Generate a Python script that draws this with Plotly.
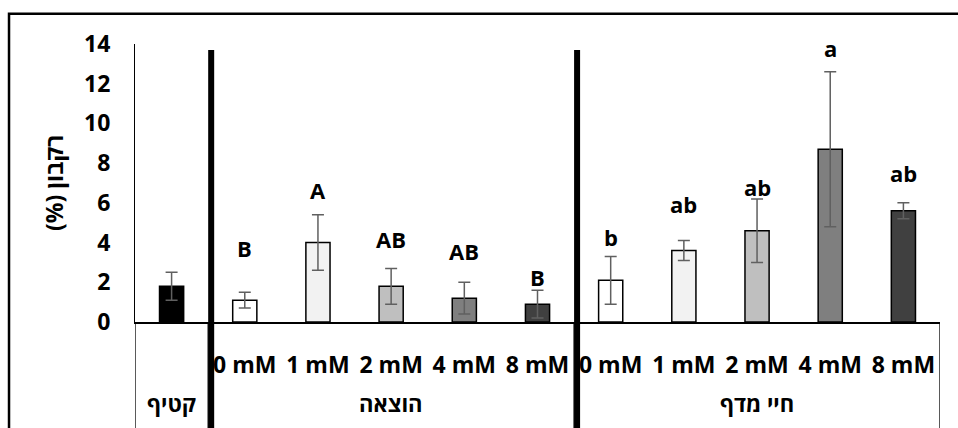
import plotly.graph_objects as go

# ---- data ----
groups = ["קטיף", "הוצאה", "הוצאה", "הוצאה", "הוצאה", "הוצאה",
          "חיי מדף", "חיי מדף", "חיי מדף", "חיי מדף", "חיי מדף"]
doses = ["", "0 mM", "1 mM", "2 mM", "4 mM", "8 mM",
         "0 mM", "1 mM", "2 mM", "4 mM", "8 mM"]
means = [1.8, 1.1, 4.0, 1.8, 1.2, 0.9, 2.1, 3.6, 4.6, 8.7, 5.6]
errs = [0.7, 0.4, 1.4, 0.9, 0.8, 0.7, 1.2, 0.5, 1.6, 3.9, 0.4]
letters = ["", "B", "A", "AB", "AB", "B", "b", "ab", "ab", "a", "ab"]
letter_y = [None, 3.73, 6.65, 4.18, 3.59, 2.28, 4.28, 5.94, 6.81, 13.78, 7.49]
y_ticks = [0, 2, 4, 6, 8, 10, 12, 14]
y_title = "רקבון (%)"

dose_colors = {"": "#000000", "0 mM": "#FFFFFF", "1 mM": "#F2F2F2",
               "2 mM": "#BFBFBF", "4 mM": "#7F7F7F", "8 mM": "#404040"}

x = list(range(len(means)))
colors = [dose_colors[d] for d in doses]

FONT = "Open Sans, Liberation Sans, DejaVu Sans, sans-serif"

fig = go.Figure()
fig.add_trace(go.Bar(
    x=x, y=means, width=0.33,
    marker=dict(color=colors, line=dict(color="#000000", width=1.5)),
    error_y=dict(type="data", array=errs, visible=True,
                 color="#606060", thickness=1.5, width=6),
    showlegend=False, hoverinfo="skip",
))

annotations = []
for xi, lab, ly in zip(x, letters, letter_y):
    if lab and ly is not None:
        annotations.append(dict(x=xi, y=ly, xref="x", yref="y", text=lab,
                                showarrow=False, yanchor="middle",
                                font=dict(family=FONT, size=22, color="#000000", weight="bold")))

# group labels below the dose labels
seen = []
for g in groups:
    if g not in seen:
        seen.append(g)
for g in seen:
    idx = [i for i, gg in enumerate(groups) if gg == g]
    annotations.append(dict(x=sum(idx) / len(idx), y=-0.29, xref="x", yref="paper",
                            text=g, showarrow=False, yanchor="middle",
                            font=dict(family=FONT, size=22, color="#000000", weight="bold")))

shapes = []
# group boundaries (thin dividers in category area)
bounds = [-0.5]
for i in range(1, len(groups)):
    if groups[i] != groups[i - 1]:
        bounds.append(i - 0.5)
bounds.append(len(groups) - 0.5)
for b in bounds:
    shapes.append(dict(type="line", xref="x", yref="paper", x0=b, x1=b, y0=0, y1=-0.45,
                       line=dict(color="#000000", width=1.3)))
# thick separators between groups
for b in bounds[1:-1]:
    shapes.append(dict(type="line", xref="x", yref="paper", xsizemode="pixel", xanchor=b,
                       x0=3, x1=3, y0=0.978, y1=-0.45,
                       line=dict(color="#000000", width=6)))
# outer chart border
shapes.append(dict(type="rect", xref="paper", yref="paper",
                   x0=-0.1565, x1=1.05, y0=-0.5, y1=1.1085,
                   line=dict(color="#000000", width=2.5), fillcolor="rgba(0,0,0,0)"))

fig.update_layout(
    width=958, height=428, autosize=False,
    margin=dict(l=135, r=18, t=44, b=106),
    paper_bgcolor="#FFFFFF", plot_bgcolor="#FFFFFF",
    font=dict(family=FONT, color="#000000"),
    xaxis=dict(range=[-0.5, len(means) - 0.5], tickvals=x, ticktext=doses,
               showgrid=False, zeroline=False, showline=True, linecolor="#000000",
               linewidth=1.5, ticks="", ticklabelstandoff=22,
               tickfont=dict(family=FONT, size=23, color="#000000", weight="bold")),
    yaxis=dict(range=[0, 14], tickvals=y_ticks, showgrid=False, zeroline=False,
               showline=True, linecolor="#000000", linewidth=1, ticks="",
               ticklabelstandoff=19,
               tickfont=dict(family=FONT, size=23, color="#000000", weight="bold"),
               title=dict(text=y_title + "\u200f", standoff=14,
                          font=dict(family=FONT, size=23, color="#000000", weight="bold"))),
    annotations=annotations,
    shapes=shapes,
)

fig.write_html("out.html", config={"displayModeBar": False},
               post_script="document.body.style.margin='0';document.body.style.overflow='hidden';")
